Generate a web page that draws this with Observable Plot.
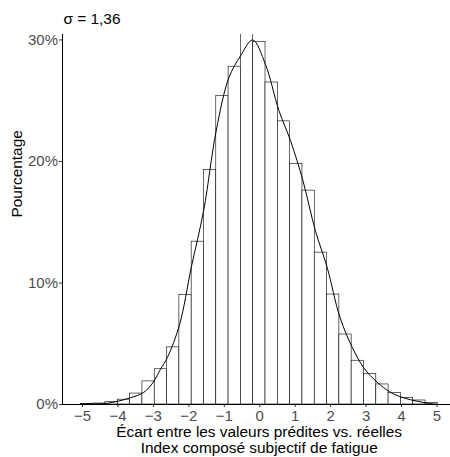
<!DOCTYPE html>
<html>
<head>
<meta charset="utf-8">
<script src="https://cdn.jsdelivr.net/npm/d3@7"></script>
<script src="https://cdn.jsdelivr.net/npm/@observablehq/plot@0.6"></script>
<style>
  html, body { margin: 0; padding: 0; background: #fff; }
  #chart svg { display: block; font-family: "Liberation Sans", Arial, sans-serif; }
</style>
</head>
<body>
<div id="chart"></div>
<script>
// Histogram bin edges (x units)
const binEdges = [-5.045, -4.698, -4.351, -4.003, -3.656, -3.309, -2.962, -2.615, -2.267, -1.920,
  -1.573, -1.226, -0.879, -0.531, -0.184, 0.163, 0.510, 0.857, 1.205, 1.552,
  1.899, 2.246, 2.593, 2.941, 3.288, 3.635, 3.982, 4.329, 4.677, 5.024];
// Bar heights (%)
const binPct = [0.04, 0.08, 0.2, 0.4, 0.9, 1.9, 2.9, 4.7, 9.0, 13.4,
  19.3, 25.4, 27.8, 31.5, 29.85, 26.5, 23.3, 19.8, 17.6, 12.5,
  9.05, 5.76, 3.6, 2.5, 1.65, 0.96, 0.55, 0.33, 0.14];
// Density curve (x, %)
const densX = [-5.05, -4.6, -4.3, -4.0, -3.65, -3.27, -3.0, -2.8, -2.6, -2.26, -1.93, -1.58, -1.23, -0.87, -0.54, -0.2,
  0.16, 0.54, 0.87, 1.22, 1.57, 1.90, 2.26, 2.61, 2.94, 3.31, 3.69, 4.06, 4.44, 4.75, 5.0];
const densY = [0.0, 0.04, 0.1, 0.27, 0.55, 1.0, 1.85, 2.9, 3.9, 6.6, 11.3, 16.0, 22.5, 26.9, 28.7, 30.0,
  28.0, 24.2, 21.7, 18.4, 14.3, 11.3, 7.2, 4.7, 3.0, 1.84, 1.0, 0.55, 0.27, 0.1, 0.0];
const xTicks = [-5, -4, -3, -2, -1, 0, 1, 2, 3, 4, 5];
const yTicks = [0, 10, 20, 30];
const title = "σ = 1,36";
const xTitle = "Écart entre les valeurs prédites vs. réelles\nIndex composé subjectif de fatigue";
const yTitle = "Pourcentage";

const bars = binPct.map((p, i) => ({x1: binEdges[i], x2: binEdges[i + 1], y: p}));
const dens = densX.map((x, i) => ({x, y: densY[i]}));

const chart = Plot.plot({
  width: 450,
  height: 457,
  marginTop: 34,
  marginBottom: 53,
  marginLeft: 62,
  marginRight: 0,
  style: {fontFamily: "'Liberation Sans', Arial, sans-serif", background: "#fff"},
  x: {domain: [-5.564, 5.381]},
  y: {domain: [0, 30.45]},
  marks: [
    Plot.rectY(bars, {x1: "x1", x2: "x2", y1: 0, y2: "y", fill: "#fff", stroke: "#000", strokeWidth: 0.6, clip: true}),
    Plot.line(dens, {x: "x", y: "y", curve: "catmull-rom", stroke: "#000", strokeWidth: 1, clip: true}),
    Plot.axisX({ticks: xTicks, tickSize: 3, tickPadding: 2.5, stroke: "#333", fill: "#4d4d4d", fontSize: 15, label: null}),
    Plot.axisY({ticks: yTicks, tickSize: 3, tickPadding: 1.5, stroke: "#333", fill: "#4d4d4d", fontSize: 15, label: null, tickFormat: d => d + "%"}),
    Plot.ruleY([0], {stroke: "#000", strokeWidth: 1}),
    Plot.ruleX([-5.564], {y1: 0, y2: 30.45, stroke: "#000", strokeWidth: 1}),
    Plot.text([title], {frameAnchor: "top-left", dx: 1, dy: -15, textAnchor: "start", lineAnchor: "middle", fontSize: 15.4, fill: "#000"}),
    Plot.text([yTitle], {frameAnchor: "left", dx: -45, dy: -2, rotate: -90, fontSize: 15.4, fill: "#000"}),
    Plot.text([xTitle], {frameAnchor: "bottom", dx: 2.7, dy: 22, lineAnchor: "top", lineHeight: 1.0, fontSize: 15.4, fill: "#000"})
  ]
});
document.getElementById("chart").appendChild(chart);
</script>
</body>
</html>
